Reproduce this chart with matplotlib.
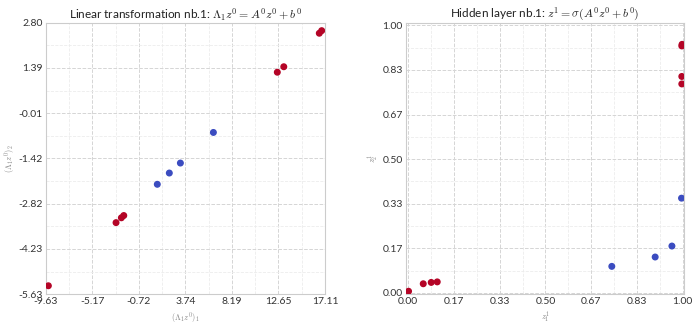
import numpy as np
import matplotlib
matplotlib.use("Agg")
import matplotlib.pyplot as plt

# colours from the coolwarm ends
RED = "#b40426"
BLUE = "#3b4cc0"

# linear transformation (left panel)
lin_x = [16.56, 16.79, 12.54, 13.16, 6.42, 3.26, 2.20, 1.05, -2.16, -2.39, -2.90, -9.38]
lin_y = [2.47, 2.55, 1.26, 1.43, -0.61, -1.56, -1.87, -2.22, -3.19, -3.26, -3.41, -5.37]
labels = ["r", "r", "r", "r", "b", "b", "b", "b", "r", "r", "r", "r"]

# hidden layer (right panel)
hid_x = [0.997, 0.998, 0.997, 0.997, 0.996, 0.961, 0.900, 0.742, 0.106, 0.084, 0.055, 0.0015]
hid_y = [0.923, 0.929, 0.781, 0.809, 0.354, 0.175, 0.134, 0.099, 0.041, 0.039, 0.034, 0.006]

left_lim_x = (-9.6312, 17.1078)
left_lim_y = (-5.632, 2.798)

plt.rcParams["mathtext.fontset"] = "cm"
plt.rcParams["font.family"] = ["Lato", "DejaVu Sans"]

fig = plt.figure(figsize=(6.93, 3.24), dpi=100)
ax1 = fig.add_axes([0.066, 0.092, 0.403, 0.838])
ax2 = fig.add_axes([0.5854, 0.092, 0.402, 0.838])

cols = [RED if c == "r" else BLUE for c in labels]


def style(ax, xt, yt):
    ax.set_xticks(xt)
    ax.set_yticks(yt)
    ax.set_xticks((xt[:-1] + xt[1:]) / 2, minor=True)
    ax.set_yticks((yt[:-1] + yt[1:]) / 2, minor=True)
    ax.xaxis.set_major_formatter(matplotlib.ticker.FormatStrFormatter("%.2f"))
    ax.yaxis.set_major_formatter(matplotlib.ticker.FormatStrFormatter("%.2f"))
    ax.tick_params(which="both", length=0, labelsize=7.5, labelcolor="#333333", pad=2)
    ax.grid(True, which="major", linestyle="--", color="#d5d5d5", linewidth=0.7)
    ax.grid(True, which="minor", linestyle="--", color="#ececec", linewidth=0.6)
    ax.set_axisbelow(True)
    for s in ax.spines.values():
        s.set_color("#cccccc")
        s.set_linewidth(0.8)


ax1.scatter(lin_x, lin_y, c=cols, s=16, zorder=3)
ax1.set_xlim(*left_lim_x)
ax1.set_ylim(*left_lim_y)
style(ax1, np.linspace(*left_lim_x, 7), np.linspace(*left_lim_y, 7))
ax1.set_title(r"Linear transformation nb.1: $\Lambda_1 z^0 = A^0 z^0 + b^0$", fontsize=8.5, pad=3, color="#222222")
ax1.set_xlabel(r"$(\Lambda_1 z^0)_1$", fontsize=6, color="#888888", labelpad=3)
ax1.set_ylabel(r"$(\Lambda_1 z^0)_2$", fontsize=6, color="#888888", labelpad=1)

ax2.scatter(hid_x, hid_y, c=cols, s=16, zorder=3)
ax2.set_xlim(-0.009, 1.006)
ax2.set_ylim(-0.005, 1.01)
style(ax2, np.linspace(0, 1, 7), np.linspace(0, 1, 7))
ax2.set_title(r"Hidden layer nb.1: $z^1 = \sigma(A^0 z^0 + b^0)$", fontsize=8.5, pad=3, color="#222222")
ax2.set_xlabel(r"$z^1_1$", fontsize=6, color="#888888", labelpad=3)
ax2.set_ylabel(r"$z^1_2$", fontsize=6, color="#888888", labelpad=1)

fig.savefig("out.png", dpi=100)
